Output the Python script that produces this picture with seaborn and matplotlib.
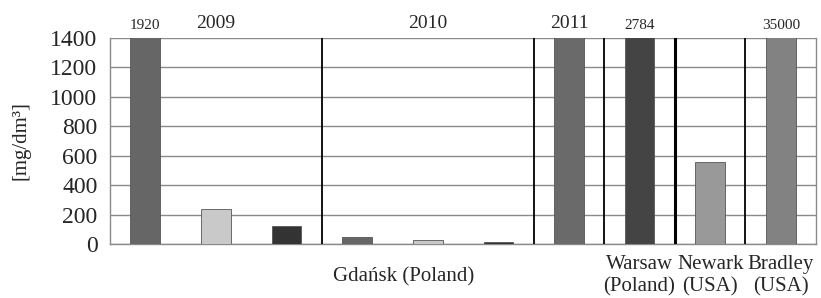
import matplotlib
matplotlib.use("Agg")
import matplotlib.pyplot as plt
import seaborn as sns
import pandas as pd

# Data (bars above 1400 are cut by the axis)
sites = ["G2009a", "G2009b", "G2009c", "G2010a", "G2010b", "G2010c",
         "G2011", "Warsaw", "Newark", "Bradley"]
values = [1920, 235, 125, 45, 25, 15, 1450, 2784, 555, 35000]
bar_colors = ["#666666", "#c9c9c9", "#333333", "#666666", "#c9c9c9", "#333333",
              "#6a6a6a", "#444444", "#999999", "#828282"]
value_labels = {0: "1920", 7: "2784", 9: "35000"}
year_labels = {"2009": 1.0, "2010": 4.0, "2011": 6.0}
separators = [2.5, 5.5, 6.5, 7.5, 8.5]
yticks = [0, 200, 400, 600, 800, 1000, 1200, 1400]

df = pd.DataFrame({"site": sites, "value": values})

sns.set_style("white")
plt.rcParams["font.family"] = ["Liberation Serif", "DejaVu Serif"]

fig = plt.figure(figsize=(8.21, 2.98), dpi=100)
ax = fig.add_axes([0.134, 0.181, 0.86, 0.692])

sns.barplot(data=df, x="site", y="value", hue="site", palette=bar_colors,
            legend=False, width=0.42, edgecolor="#555555", linewidth=0.6,
            ax=ax, zorder=3)

ax.set_ylim(0, 1400)
ax.set_xlim(-0.5, len(sites) - 0.5)
ax.set_yticks(yticks)
ax.set_yticklabels([str(v) for v in yticks], fontsize=17)
ax.yaxis.grid(True, color="#8a8a8a", linewidth=1.0, zorder=0)
ax.set_axisbelow(True)

# category separator ticks at the bottom
ax.set_xticks([i - 0.5 for i in range(len(sites) + 1)])
ax.set_xticklabels([])
ax.tick_params(axis="x", direction="out", length=5, color="#8a8a8a", width=1)
ax.tick_params(axis="y", direction="out", length=6, color="#8a8a8a", width=1,
               pad=3)
ax.set_xlabel("")
ax.set_ylabel("[mg/dm³]", fontsize=15, labelpad=14)

for side in ["left", "bottom", "right", "top"]:
    ax.spines[side].set_color("#8a8a8a")
    ax.spines[side].set_linewidth(1.0)
ax.spines["top"].set_visible(False)

for i, s in enumerate(separators):
    ax.axvline(s, color="black", linewidth=2.2 if i == 3 else 1.3, zorder=4)

for i, txt in value_labels.items():
    ax.text(i, 1440, txt, ha="center", va="bottom", fontsize=11)
for txt, xpos in year_labels.items():
    ax.text(xpos, 1440, txt, ha="center", va="bottom", fontsize=14)

ax.text(3.66, -220, "Gdańsk (Poland)", ha="center", va="center", fontsize=15)
ax.text(7.0, -215, "Warsaw\n(Poland)", ha="center", va="center", fontsize=15,
        linespacing=1.25)
ax.text(8.0, -215, "Newark\n(USA)", ha="center", va="center", fontsize=15,
        linespacing=1.25)
ax.text(9.0, -215, "Bradley\n(USA)", ha="center", va="center", fontsize=15,
        linespacing=1.25)

fig.savefig("out.png", dpi=100)
